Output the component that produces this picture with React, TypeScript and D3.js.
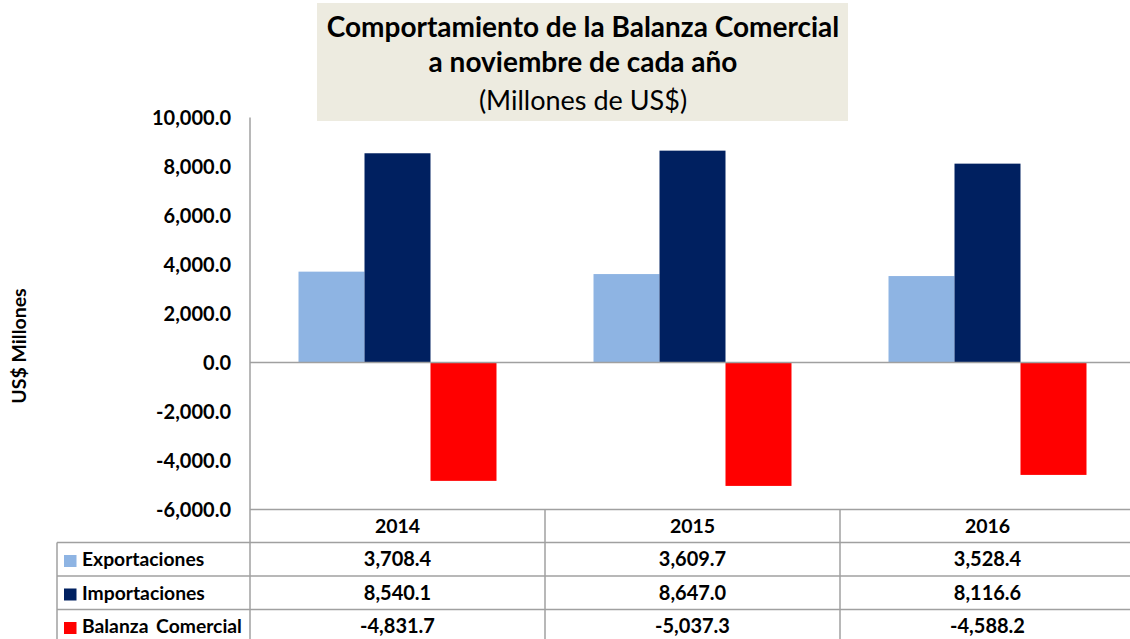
import React from "react";
import * as d3 from "d3";

const years = ["2014", "2015", "2016"];
const seriesNames = ["Exportaciones", "Importaciones", "Balanza Comercial"];
const exportaciones = [3708.4, 3609.7, 3528.4];
const importaciones = [8540.1, 8647.0, 8116.6];
const balanza = [-4831.7, -5037.3, -4588.2];
const yTicks = [10000, 8000, 6000, 4000, 2000, 0, -2000, -4000, -6000];
const colors = ["#8EB4E3", "#002060", "#FF0000"];

const W = 1130;
const H = 639;
const FONT = "Lato, 'Open Sans', sans-serif";

export default function App() {
  const values = [exportaciones, importaciones, balanza];
  const y = d3.scaleLinear().domain([-6000, 10000]).range([509.5, 117.5]);
  const x0 = d3.scaleBand<string>().domain(years).range([250, 1135]);
  const x1 = d3
    .scaleBand<string>()
    .domain(seriesNames)
    .range([0, x0.bandwidth()])
    .paddingInner(0)
    .paddingOuter(0.735);
  const locale = d3.formatLocale({
    decimal: ".",
    thousands: ",",
    grouping: [3],
    currency: ["$", ""],
    minus: "-",
  });
  const fmt = locale.format(",.1f");
  const grid = "#A0A0A0";
  const rowTop = [542.5, 576, 609.5];
  const rowH = 33.5;
  const tableLeft = 57;
  const axisX = 250;
  const plotBottom = y(-6000);

  return (
    <svg
      width={W}
      height={H}
      style={{ position: "absolute", left: 0, top: 0, display: "block" }}
      fontFamily={FONT}
    >
      <rect x={0} y={0} width={W} height={H} fill="#fff" />
      {/* title */}
      <rect x={317} y={3} width={531} height={118} fill="#EDEBE0" />
      <text x={583} y={37} textAnchor="middle" fontSize={28} fontWeight={700} fill="#000">
        Comportamiento de la Balanza Comercial
      </text>
      <text x={583} y={72} textAnchor="middle" fontSize={28} fontWeight={700} fill="#000">
        a noviembre de cada año
      </text>
      <text x={583} y={110} textAnchor="middle" fontSize={27} fontWeight={400} fill="#000">
        (Millones de US$)
      </text>

      {/* y axis title */}
      <text
        transform={`translate(26,346) rotate(-90)`}
        textAnchor="middle"
        fontSize={19.5}
        fontWeight={700}
        fill="#000"
      >
        US$ Millones
      </text>

      {/* y tick labels */}
      {yTicks.map((t) => (
        <text
          key={t}
          x={231}
          y={y(t)}
          dy="0.35em"
          textAnchor="end"
          fontSize={20}
          fontWeight={700}
          fill="#000"
        >
          {fmt(t)}
        </text>
      ))}

      {/* bars */}
      {years.map((yr, i) => (
        <g key={yr} transform={`translate(${x0(yr)},0)`}>
          {seriesNames.map((s, k) => {
            const v = values[k][i];
            const top = Math.min(y(v), y(0));
            const h = Math.abs(y(v) - y(0));
            return (
              <rect
                key={s}
                x={x1(s)}
                y={top}
                width={x1.bandwidth()}
                height={h}
                fill={colors[k]}
              />
            );
          })}
        </g>
      ))}

      {/* zero line */}
      <line x1={axisX} x2={W} y1={y(0)} y2={y(0)} stroke={grid} strokeWidth={1.5} />
      {/* plot bottom / table top */}
      <line x1={axisX} x2={W} y1={plotBottom} y2={plotBottom} stroke={grid} strokeWidth={1.5} />
      {/* axis */}
      <line x1={axisX} x2={axisX} y1={y(10000)} y2={H} stroke={grid} strokeWidth={1.5} />

      {/* table lines */}
      {rowTop.map((r) => (
        <line key={r} x1={tableLeft} x2={W} y1={r} y2={r} stroke={grid} strokeWidth={1.5} />
      ))}
      <line x1={tableLeft} x2={tableLeft} y1={rowTop[0]} y2={H} stroke={grid} strokeWidth={1.5} />
      {years.slice(1).map((yr) => (
        <line
          key={yr}
          x1={x0(yr)}
          x2={x0(yr)}
          y1={plotBottom}
          y2={H}
          stroke={grid}
          strokeWidth={1.5}
        />
      ))}

      {/* header years */}
      {years.map((yr) => (
        <text
          key={yr}
          x={(x0(yr) as number) + x0.bandwidth() / 2}
          y={(plotBottom + rowTop[0]) / 2}
          dy="0.36em"
          textAnchor="middle"
          fontSize={19.5}
          fontWeight={700}
          fill="#000"
        >
          {yr}
        </text>
      ))}

      {/* table rows */}
      {seriesNames.map((s, k) => (
        <g key={s}>
          <rect x={64} y={rowTop[k] + 12.5} width={12.5} height={12} fill={colors[k]} />
          <text
            x={82}
            y={rowTop[k] + rowH / 2}
            dy="0.36em"
            fontSize={19.3}
            fontWeight={700}
            fill="#000"
            wordSpacing={k === 2 ? 3 : 0}
          >
            {s}
          </text>
          {years.map((yr, i) => (
            <text
              key={yr}
              x={(x0(yr) as number) + x0.bandwidth() / 2}
              y={rowTop[k] + rowH / 2}
              dy="0.36em"
              textAnchor="middle"
              fontSize={20}
              fontWeight={700}
              fill="#000"
            >
              {fmt(values[k][i])}
            </text>
          ))}
        </g>
      ))}
    </svg>
  );
}
